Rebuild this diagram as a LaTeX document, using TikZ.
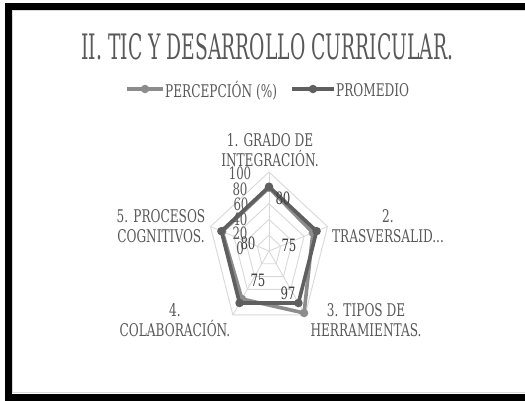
\documentclass[tikz,border=0pt]{standalone}
\usepackage{fontspec}
\setmainfont{DejaVu Serif Condensed}
\usepackage{graphicx}
\definecolor{txt}{HTML}{595959}
\definecolor{dlab}{HTML}{404040}
\definecolor{gridc}{HTML}{D9D9D9}
\definecolor{serA}{HTML}{8C8C8C}
\definecolor{serB}{HTML}{5F5F5F}
\newcommand\sq[1]{\scalebox{0.77}[1]{#1}}
\begin{document}
\begin{tikzpicture}[x=1pt,y=-1pt,
  lab/.style={inner sep=0pt, text=txt, align=center, font=\fontsize{17.5}{20}\selectfont},
  axlab/.style={inner sep=0pt, text=txt, font=\fontsize{17}{17}\selectfont},
  datlab/.style={inner sep=0pt, text=dlab, font=\fontsize{17}{17}\selectfont},
  gridline/.style={draw=gridc, line width=0.9pt},
  serAline/.style={draw=serA, line width=3.6pt, line join=round},
  serBline/.style={draw=serB, line width=3.6pt, line join=round},
  mkA/.style={circle, fill=serA, inner sep=0pt, minimum size=8.5pt},
  mkB/.style={circle, fill=serB, inner sep=0pt, minimum size=8.5pt}]
\useasboundingbox (0,0) rectangle (525,400);
\clip (0,0) rectangle (525,400);
\fill[white] (0,0) rectangle (525,400);
% frame
\draw[gridc, line width=1pt] (12,10.5) rectangle (540,392.5);
\draw[black, line width=7pt] (8,6.5) rectangle (545,397);
% title
\node[inner sep=0pt, text=txt] (title) at (267.5,47) {\resizebox{372pt}{26pt}{\fontsize{30}{30}\selectfont II. TIC Y DESARROLLO CURRICULAR.}};
% legend
\coordinate (lA1) at (127,89); \coordinate (lA2) at (163,89);
\draw[serAline, line width=3.6pt] (lA1) -- (lA2);
\node[mkA] (lAm) at (145,89) {};
\node[lab, anchor=west] (legA) at (165,90.5) {\sq{PERCEPCIÓN (\%)}};
\coordinate (lB1) at (292,89); \coordinate (lB2) at (334,89);
\draw[serBline] (lB1) -- (lB2);
\node[mkB] (lBm) at (313,89) {};
\node[lab, anchor=west] (legB) at (336,90.5) {\sq{PROMEDIO}};
% radar grid
\def\cx{269}\def\cy{251}\def\rx{61.5}\def\ry{79}
\foreach \f in {0.2,0.4,0.6,0.8,1.0}{
  \draw[gridline] ({\cx+\f*\rx*sin(0)},{\cy-\f*\ry*cos(0)})
   -- ({\cx+\f*\rx*sin(72)},{\cy-\f*\ry*cos(72)})
   -- ({\cx+\f*\rx*sin(144)},{\cy-\f*\ry*cos(144)})
   -- ({\cx+\f*\rx*sin(216)},{\cy-\f*\ry*cos(216)})
   -- ({\cx+\f*\rx*sin(288)},{\cy-\f*\ry*cos(288)}) -- cycle;
}
\coordinate (ctr) at (\cx,\cy);
\foreach \k in {0,1,2,3,4}{
  \coordinate (ax\k) at ({\cx+\rx*sin(72*\k)},{\cy-\ry*cos(72*\k)});
  \draw[gridline] (ctr) -- (ax\k);
}
% series A: PERCEPCION
\foreach \k/\v in {0/0.80,1/0.75,2/0.97,3/0.75,4/0.80}{
  \coordinate (a\k) at ({\cx+\v*\rx*sin(72*\k)},{\cy-\v*\ry*cos(72*\k)});
}
\draw[serAline] (a0) -- (a1) -- (a2) -- (a3) -- (a4) -- cycle;
\foreach \k in {0,...,4}{ \node[mkA] (ma\k) at (a\k) {}; }
% series B: PROMEDIO
\foreach \k in {0,1,2,3,4}{
  \coordinate (b\k) at ({\cx+0.814*\rx*sin(72*\k)},{\cy-0.814*\ry*cos(72*\k)});
}
\draw[serBline] (b0) -- (b1) -- (b2) -- (b3) -- (b4) -- cycle;
\foreach \k in {0,...,4}{ \node[mkB] (mb\k) at (b\k) {}; }
% axis labels
\node[axlab] (t100) at (240,173) {\sq{100}};
\node[axlab] (t80) at (240,189) {\sq{80}};
\node[axlab] (t60) at (241,204) {\sq{60}};
\node[axlab] (t40) at (240,219) {\sq{40}};
\node[axlab] (t20) at (240,233) {\sq{20}};
\node[axlab] (t0) at (240,248) {\sq{0}};
% data labels
\node[datlab] (d1) at (283,198) {\sq{80}};
\node[datlab] (d2) at (289,245) {\sq{75}};
\node[datlab] (d3) at (288,293) {\sq{97}};
\node[datlab] (d4) at (258,280) {\sq{75}};
\node[datlab] (d5) at (248,243) {\sq{80}};
% category labels
\node[lab] (c1) at (270,150) {\sq{1. GRADO DE}\\\sq{INTEGRACIÓN.}};
\node[lab] (c2) at (388,226) {\sq{2.}\\\sq{TRASVERSALID...}};
\node[lab] (c3) at (366,320) {\sq{3. TIPOS DE}\\\sq{HERRAMIENTAS.}};
\node[lab] (c4) at (175,320) {\sq{4.}\\\sq{COLABORACIÓN.}};
\node[lab] (c5) at (161,226) {\sq{5. PROCESOS}\\\sq{COGNITIVOS.}};
\end{tikzpicture}
\end{document}
